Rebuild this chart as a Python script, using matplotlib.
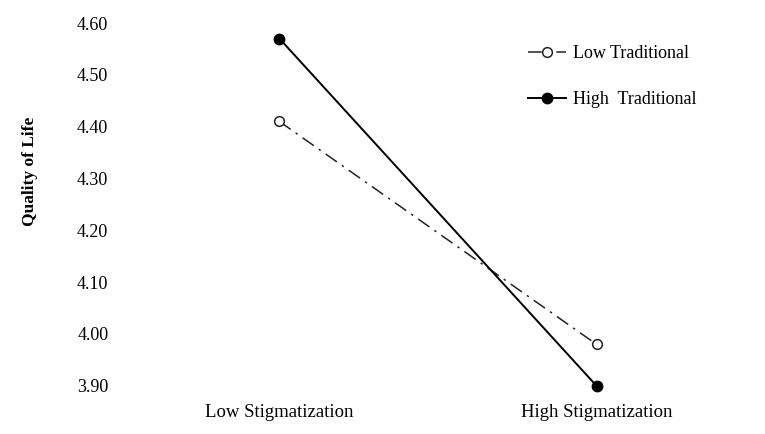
import matplotlib
matplotlib.use('Agg')
import matplotlib.pyplot as plt

categories = ['Low Stigmatization', 'High Stigmatization']
low_traditional = [4.41, 3.98]
high_traditional = [4.57, 3.90]
y_ticks = [3.90, 4.00, 4.10, 4.20, 4.30, 4.40, 4.50, 4.60]

plt.rcParams['font.family'] = ['Liberation Serif', 'DejaVu Serif']

fig = plt.figure(figsize=(7.65, 4.34), dpi=100)
ax = fig.add_axes([0.158, 0.111, 0.829, 0.836])

x = [0.5, 1.5]
ax.plot(x, low_traditional, color='#222222', linestyle=(0, (9, 4, 1.5, 4)), linewidth=1.1,
        marker='o', markersize=7, markerfacecolor='white', markeredgecolor='#222222',
        markeredgewidth=1.1, label='Low Traditional', clip_on=False)
ax.plot(x, high_traditional, color='black', linestyle='-', linewidth=1.4,
        marker='o', markersize=7.5, markerfacecolor='black', markeredgecolor='black',
        label='High  Traditional', clip_on=False)

ax.set_xlim(0, 2)
ax.set_ylim(3.90, 4.60)
ax.set_xticks(x)
ax.set_xticklabels(categories, fontsize=13.5)
ax.set_yticks(y_ticks)
ax.set_yticklabels(['%.2f' % v for v in y_ticks], fontsize=13)
ax.tick_params(axis='both', length=0)
ax.tick_params(axis='x', pad=13)
ax.tick_params(axis='y', pad=9)
for side in ax.spines.values():
    side.set_visible(False)

# label sits a bit above the axis centre, as in the original
ax.set_ylabel('Quality of Life', fontsize=12.5, fontweight='bold')
ax.yaxis.set_label_coords(-0.13, 0.59)

ax.legend(loc='upper left', bbox_to_anchor=(0.669, 0.933), bbox_transform=fig.transFigure,
          frameon=False, fontsize=13, handlelength=2.1, labelspacing=1.6, handletextpad=0.4)

fig.savefig('out.png', dpi=100)
